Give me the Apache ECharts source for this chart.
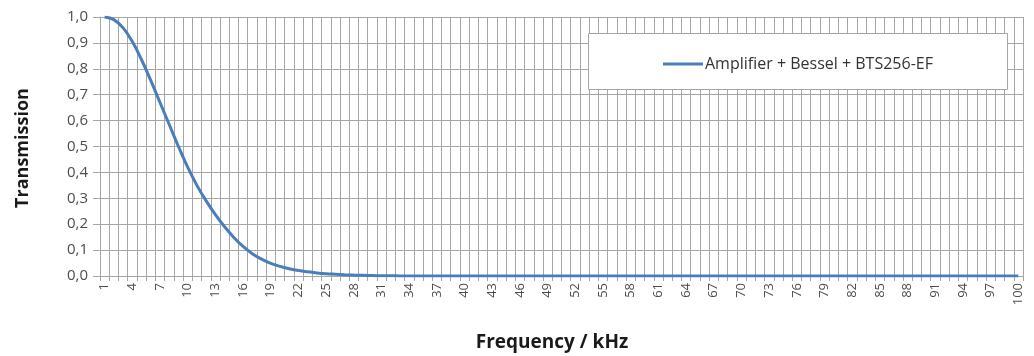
<!DOCTYPE html>
<html>
<head>
<meta charset="utf-8">
<script src="https://cdn.jsdelivr.net/npm/echarts@6/dist/echarts.min.js"></script>
<style>
  html, body { margin: 0; padding: 0; background: #fff; }
  #chart { width: 1034px; height: 356px; }
</style>
</head>
<body>
<div id="chart"></div>
<script>
// Frequency categories (kHz), 1..100
const freqs = [
  1, 2, 3, 4, 5, 6, 7, 8, 9, 10, 11, 12, 13, 14, 15, 16, 17, 18, 19, 20,
  21, 22, 23, 24, 25, 26, 27, 28, 29, 30, 31, 32, 33, 34, 35, 36, 37, 38, 39, 40,
  41, 42, 43, 44, 45, 46, 47, 48, 49, 50, 51, 52, 53, 54, 55, 56, 57, 58, 59, 60,
  61, 62, 63, 64, 65, 66, 67, 68, 69, 70, 71, 72, 73, 74, 75, 76, 77, 78, 79, 80,
  81, 82, 83, 84, 85, 86, 87, 88, 89, 90, 91, 92, 93, 94, 95, 96, 97, 98, 99, 100
];

// Transmission
const transmission = [
  1.000, 0.990, 0.958, 0.905, 0.835, 0.755, 0.670, 0.585, 0.500, 0.420,
  0.350, 0.290, 0.237, 0.190, 0.149, 0.114, 0.086, 0.065, 0.049, 0.037,
  0.028, 0.021, 0.016, 0.012, 0.009, 0.007, 0.005, 0.0035, 0.0025, 0.0017,
  0.0011, 0.0007, 0.0004, 0.0002, 0, 0, 0, 0, 0, 0,
  0, 0, 0, 0, 0, 0, 0, 0, 0, 0,
  0, 0, 0, 0, 0, 0, 0, 0, 0, 0,
  0, 0, 0, 0, 0, 0, 0, 0, 0, 0,
  0, 0, 0, 0, 0, 0, 0, 0, 0, 0,
  0, 0, 0, 0, 0, 0, 0, 0, 0, 0,
  0, 0, 0, 0, 0, 0, 0, 0, 0, 0
];

const seriesName = 'Amplifier + Bessel + BTS256-EF';
const gridColor = '#a6a6a6';
const labelColor = '#4d4d4d';
const font = '"Open Sans", "Noto Sans", sans-serif';

const chart = echarts.init(document.getElementById('chart'));

chart.setOption({
  animation: false,
  backgroundColor: '#fff',
  grid: { left: 100, right: 11, top: 17, bottom: 80, containLabel: false },
  legend: {
    data: [seriesName],
    left: 658,
    top: 51,
    icon: 'rect',
    itemWidth: 40,
    itemHeight: 3,
    itemGap: 0,
    textStyle: { fontFamily: font, fontSize: 16, color: '#333', padding: [0, 0, 0, -3] }
  },
  graphic: [
    {
      type: 'rect',
      z: 3,
      shape: { x: 588.5, y: 33.5, width: 419, height: 56 },
      style: { fill: '#fff', stroke: '#a6a6a6', lineWidth: 1 }
    },
    {
      type: 'text',
      z: 3,
      rotation: Math.PI / 2,
      x: 23,
      y: 148,
      style: {
        text: 'Transmission',
        font: 'bold 18px ' + font,
        fill: '#1a1a1a',
        align: 'center',
        verticalAlign: 'middle'
      }
    },
    {
      type: 'text',
      z: 3,
      x: 552,
      y: 343,
      style: {
        text: 'Frequency / kHz',
        font: 'bold 19px ' + font,
        fill: '#1a1a1a',
        align: 'center',
        verticalAlign: 'middle'
      }
    }
  ],
  xAxis: {
    type: 'category',
    data: freqs,
    boundaryGap: true,
    axisLine: { show: true, lineStyle: { color: gridColor, width: 1 } },
    axisTick: { show: true, interval: 0, length: 5, lineStyle: { color: gridColor } },
    splitLine: { show: true, interval: 0, lineStyle: { color: gridColor, width: 1 } },
    axisLabel: {
      interval: 2,
      rotate: 90,
      margin: 7,
      color: labelColor,
      fontFamily: font,
      fontSize: 13
    }
  },
  yAxis: {
    type: 'value',
    min: 0,
    max: 1,
    interval: 0.1,
    axisLine: { show: true, lineStyle: { color: gridColor, width: 1 } },
    axisTick: { show: true, length: 7, lineStyle: { color: gridColor } },
    splitLine: { show: true, lineStyle: { color: gridColor, width: 1 } },
    axisLabel: {
      margin: 12,
      color: labelColor,
      fontFamily: font,
      fontSize: 15,
      formatter: v => v.toFixed(1).replace('.', ',')
    }
  },
  series: [
    {
      name: seriesName,
      type: 'line',
      data: transmission,
      smooth: 0.4,
      showSymbol: false,
      symbol: 'none',
      itemStyle: { color: '#4a7ebb' },
      lineStyle: { color: '#4a7ebb', width: 3 }
    }
  ]
});
</script>
</body>
</html>
